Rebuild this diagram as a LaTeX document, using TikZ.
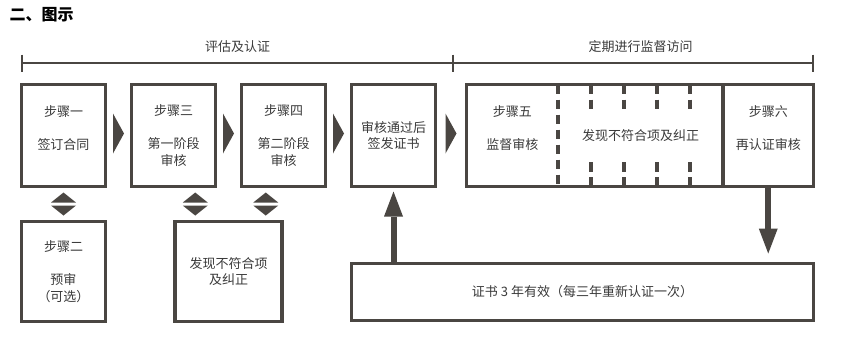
\documentclass[tikz,border=0pt]{standalone}
\usepackage{fontspec}
\newfontfamily\cjk{Noto Sans CJK SC}
\usetikzlibrary{arrows.meta,positioning,calc}
\definecolor{BoxGray}{RGB}{74,70,66}
\definecolor{TextGray}{RGB}{58,58,58}

\begin{document}
\begin{tikzpicture}[
  x=1pt, y=-1pt,
  box/.style={
    rectangle,
    draw=BoxGray,
    line width=3.5pt,
    fill=white,
    inner sep=0pt,
    outer sep=0pt,
    align=center,
    text=TextGray,
    font=\cjk\fontsize{13pt}{16.5pt}\selectfont
  },
  stepbox/.style={
    box,
    minimum width=84pt,
    minimum height=102pt
  },
  part/.style={
    rectangle,
    inner sep=0pt,
    outer sep=0pt,
    align=center,
    minimum height=102pt,
    text=TextGray,
    font=\cjk\fontsize{13pt}{16.5pt}\selectfont
  },
  frame/.style={draw=BoxGray, line width=3.5pt},
  dashline/.style={draw=BoxGray, line width=3.5pt, dash pattern=on 9.5pt off 5.5pt},
  tri/.style={fill=BoxGray},
  bigarrow/.style={draw=BoxGray, line width=6pt,
    -{Triangle[width=19pt,length=25pt,line width=0pt]}},
  rule/.style={draw=BoxGray, line width=1.2pt},
  phase/.style={text=TextGray, font=\cjk\fontsize{13pt}{16pt}\selectfont},
  heading/.style={text=black, font=\cjk\bfseries\fontsize{16pt}{18pt}\selectfont}
]
\useasboundingbox (0,0) rectangle (841,357);

% title
\node[heading, anchor=west] (ttl) at (6,15) {二、图示};

% time line
\coordinate (t0) at (22,63);
\coordinate (t1) at (453,63);
\coordinate (t2) at (813,63);
\draw[rule] (t0) -- (t2);
\foreach \t in {t0,t1,t2}
  \draw[rule] ($(\t)+(0,-8.5)$) -- ($(\t)+(0,8.5)$);

% steps
\node[stepbox] (s1) at (63.5,135.5) {步骤一\\[16.5pt]签订合同\\\mbox{}};
\node[stepbox, right=26pt of s1] (s3) {步骤三\\[16.5pt]第一阶段\\审核};
\node[stepbox, right=26pt of s3] (s4) {步骤四\\[16.5pt]第二阶段\\审核};
\node[stepbox, right=26pt of s4] (cert) {审核通过后\\签发证书};
\node[stepbox, minimum height=100pt, below=35pt of s1] (s2) {步骤二\\[16.5pt]预审\\（可选）};
\node[box, minimum width=107pt, minimum height=100pt, anchor=north] (nc)
  at ($(s3.south)!0.5!(s4.south)+(0,35)$) {发现不符合项\\及纠正};

% surveillance
\node[part, minimum width=91.5pt, right=31pt of cert] (p5) {步骤五\\[16.5pt]监督审核\\\mbox{}};
\node[part, minimum width=165pt, right=0pt of p5] (pnc) {发现不符合项及纠正};
\node[part, minimum width=90.5pt, right=0pt of pnc] (p6) {步骤六\\[16.5pt]再认证审核\\\mbox{}};
\draw[frame] (p5.north west) rectangle (p6.south east);
\draw[frame] (p6.north west) -- (p6.south west);
\draw[dashline] (p5.north east) -- (p5.south east);
\foreach \f in {0.2,0.4,0.6,0.8} {
  \draw[dashline] ($(pnc.north west)!\f!(pnc.north east)$) -- ++(0,24.5);
  \draw[dashline] ($(pnc.south west)!\f!(pnc.south east)$) -- ++(0,-24.5);
}

\node[box, minimum width=462pt, minimum height=57pt, anchor=north west] (bot)
  at ($(cert.south west)+(0,77)$) {证书 3 年有效（每三年重新认证一次）};

% phase labels
\node[phase] (lab1) at ($(t0)!0.5!(t1)+(0,-16)$) {评估及认证};
\node[phase] (lab2) at (pnc |- lab1) {定期进行监督访问};

% flow chevrons
\foreach \a/\b in {s1/s3,s3/s4,s4/cert,cert/p5}
  \fill[tri] ($(\a.east)!0.5!(\b.west)+(-5.5,-22)$) -- ++(11,20) -- ++(-11,20) -- cycle;

% two-way markers
\coordinate (m1) at ($(s1.south)!0.5!(s2.north)$);
\coordinate (m2) at ($(s3.south east)!0.5!(nc.north west)$);
\coordinate (m3) at ($(s4.south west)!0.5!(nc.north east)+(4,0)$);
\foreach \m in {m1,m2,m3} {
  \fill[tri] ($(\m)+(-12.5,-1.5)$) -- ++(25,0) -- ++(-12.5,-10) -- cycle;
  \fill[tri] ($(\m)+(-12.5,1.5)$) -- ++(25,0) -- ++(-12.5,10) -- cycle;
}

% arrows
\draw[bigarrow, shorten >=5pt] (bot.north -| cert.south) -- (cert.south);
\draw[bigarrow, shorten >=10pt] (p6.south) -- (p6.south |- bot.north);
\end{tikzpicture}
\end{document}
